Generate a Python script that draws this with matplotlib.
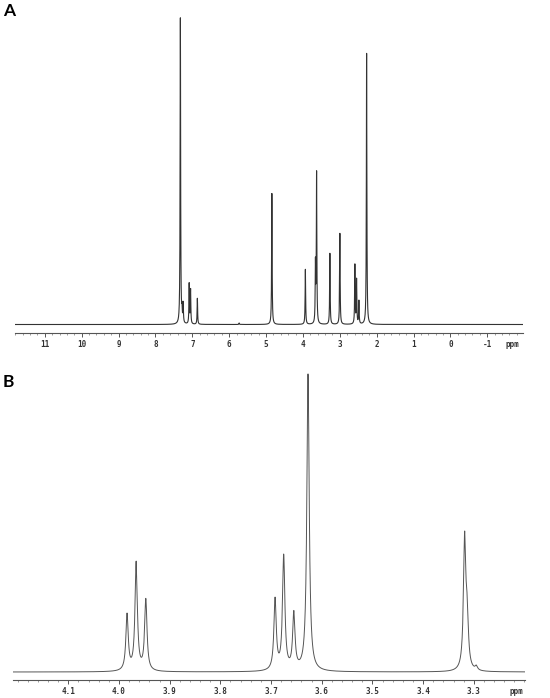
import matplotlib
matplotlib.use('Agg')
import matplotlib.pyplot as plt
from matplotlib.ticker import FixedLocator, MultipleLocator
import numpy as np

# Panel A: full 1H NMR spectrum, peak list
a_ppm = [7.324, 7.280, 7.248, 7.085, 7.047, 6.863, 5.729, 4.842, 3.933,
         3.660, 3.629, 3.268, 2.997, 2.590, 2.544, 2.481, 2.272]
a_height = [306, 12, 19, 40, 34, 26, 1.5, 131, 55,
            58, 150, 71, 91, 59, 44, 23, 271]
a_ticks = [11, 10, 9, 8, 7, 6, 5, 4, 3, 2, 1, 0, -1]

# Panel B: expansion 4.2 - 3.2 ppm
b_ppm = [3.984, 3.966, 3.947, 3.692, 3.675, 3.655, 3.627, 3.318, 3.313, 3.295]
b_height = [56, 108, 71, 71, 114, 56, 297, 130, 45, 4]
b_ticks = [4.1, 4.0, 3.9, 3.8, 3.7, 3.6, 3.5, 3.4, 3.3]

W, H = 550, 698


def lorentz_sum(x, centers, heights, gamma):
    y = np.zeros_like(x)
    for c, h in zip(centers, heights):
        y += h * gamma ** 2 / ((x - c) ** 2 + gamma ** 2)
    return y


def px_axes(fig, x0, x1, ytop, ybot):
    # axes placed by pixel edges (from top-left)
    return fig.add_axes([x0 / W, 1 - ybot / H, (x1 - x0) / W, (ybot - ytop) / H])


def style_axis(ax, major, minor, labels, ppm_x):
    for s in ['left', 'right', 'top']:
        ax.spines[s].set_visible(False)
    ax.spines['bottom'].set_color('#555555')
    ax.spines['bottom'].set_linewidth(0.8)
    ax.set_yticks([])
    ax.xaxis.set_major_locator(FixedLocator(major))
    ax.xaxis.set_minor_locator(MultipleLocator(minor))
    ax.set_xticklabels(labels)
    ax.tick_params(axis='x', which='major', length=3, width=0.7,
                   color='#555555', pad=2, labelsize=5.5, labelcolor='#333333')
    ax.tick_params(axis='x', which='minor', length=1.5, width=0.5,
                   color='#777777')
    for t in ax.get_xticklabels():
        t.set_family('DejaVu Sans Mono')
        t.set_fontweight('bold')
    # 'ppm' unit label, level with the tick labels
    ax.annotate('ppm', xy=(ppm_x, 0), xycoords=ax.get_xaxis_transform(),
                xytext=(0, -5.2), textcoords='offset points',
                ha='center', va='top', fontsize=5.5,
                family='DejaVu Sans Mono', fontweight='bold', color='#333333')


fig = plt.figure(figsize=(W / 100, H / 100), dpi=100)

# ---- panel A ----
axA = px_axes(fig, 15, 523, 15, 333)
xa = np.union1d(np.linspace(-1.97, 11.81, 30000), a_ppm)
ya = lorentz_sum(xa, a_ppm, a_height, 0.008)
axA.plot(xa, ya, color='#333333', lw=0.8)
axA.set_xlim(11.81, -1.97)
axA.set_ylim(-8.5, 309.5)
style_axis(axA, a_ticks, 0.2, [str(t) for t in a_ticks], -1.69)

# ---- panel B ----
axB = px_axes(fig, 13, 525, 370, 680)
xb = np.union1d(np.linspace(3.199, 4.209, 20000), b_ppm)
yb = lorentz_sum(xb, b_ppm, b_height, 0.0028)
axB.plot(xb, yb, color='#555555', lw=0.7)
axB.set_xlim(4.209, 3.199)
axB.set_ylim(-8, 302)
style_axis(axB, b_ticks, 0.02, ['%.1f' % t for t in b_ticks], 3.215)

fig.text(3 / W, 1 - 11 / H, 'A', fontsize=12.5, fontweight='bold',
         family='Lato', va='center', ha='left')
fig.text(3 / W, 1 - 382 / H, 'B', fontsize=12.5, fontweight='bold',
         family='Lato', va='center', ha='left')

fig.savefig('out.png', dpi=100)
